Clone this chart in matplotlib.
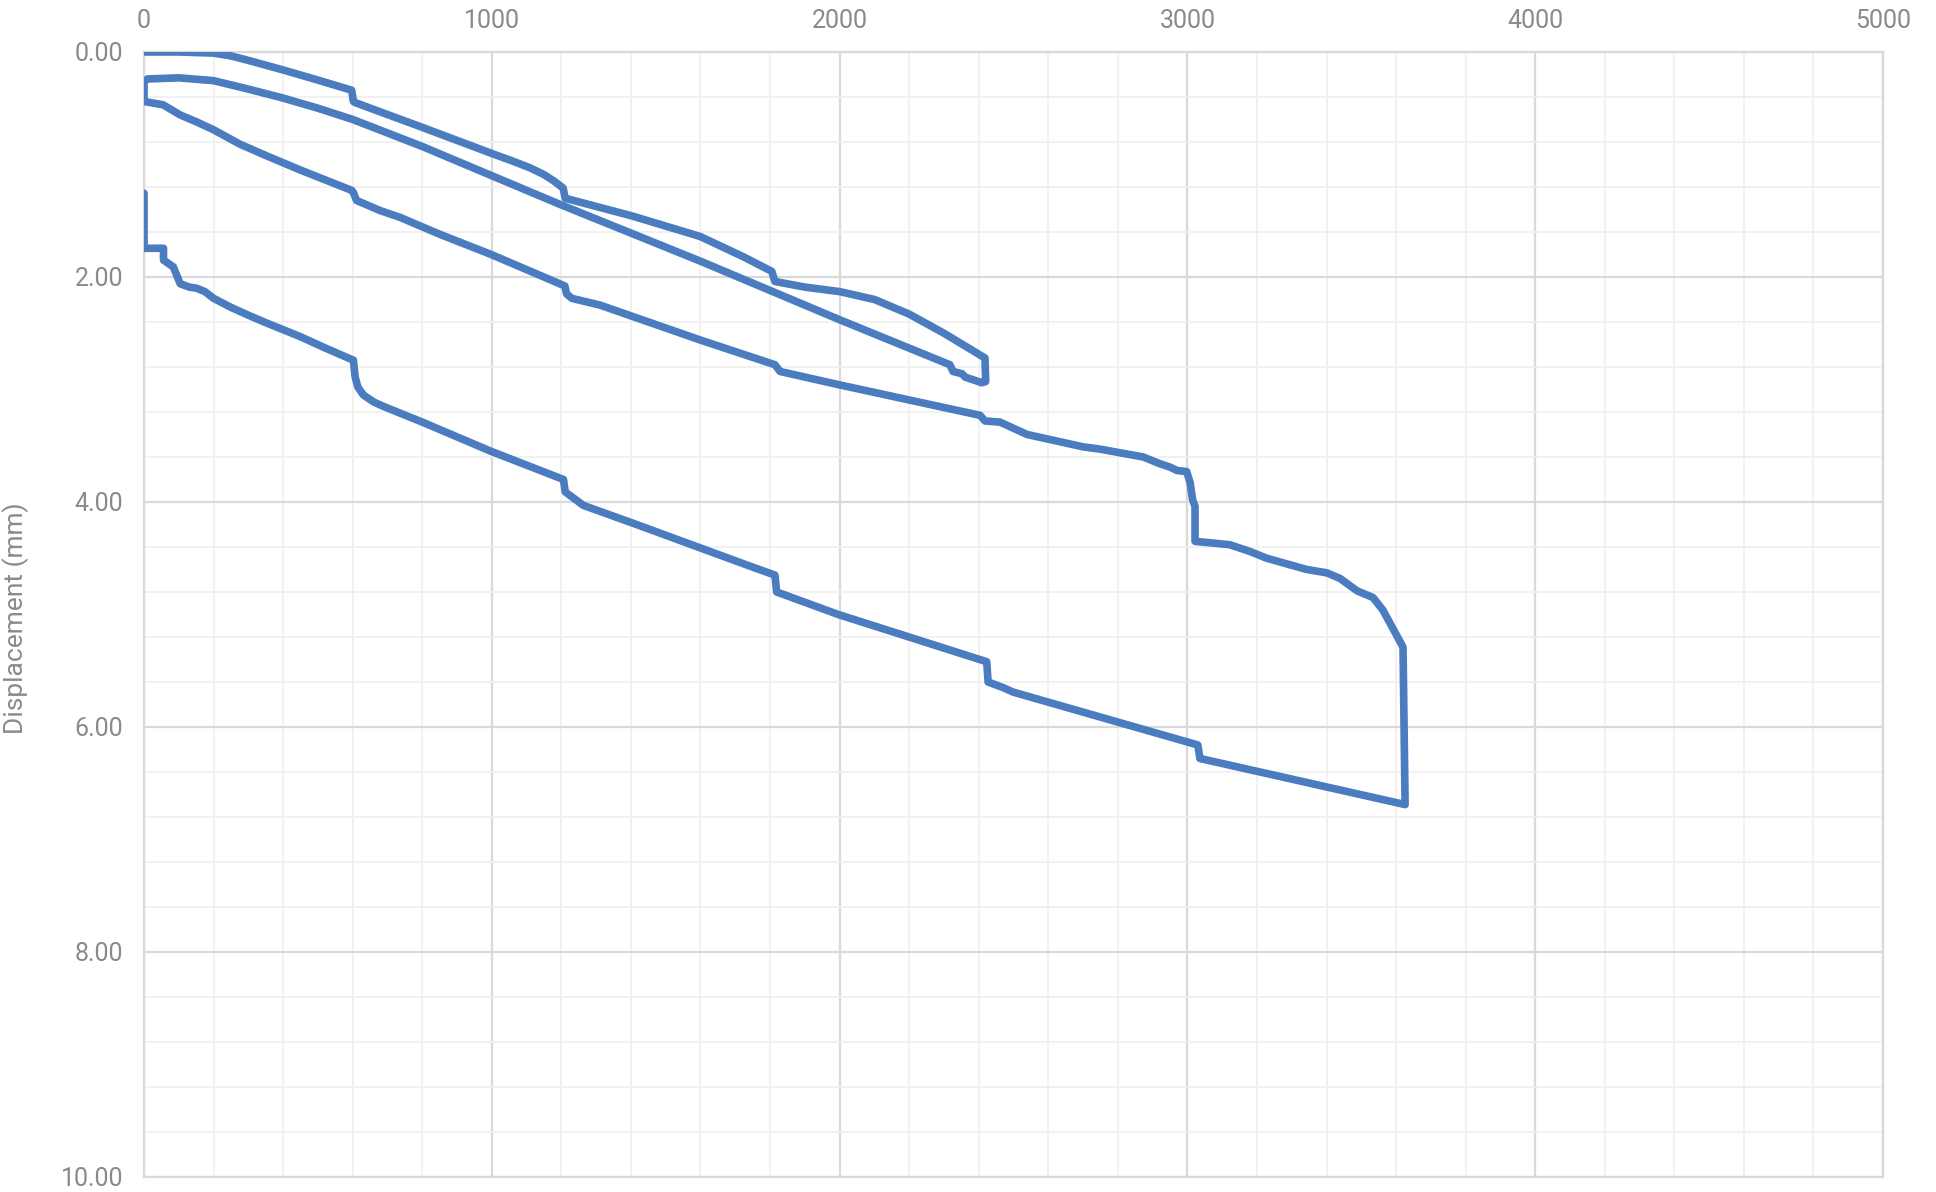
import numpy as np
import matplotlib.pyplot as plt
from matplotlib.ticker import MultipleLocator, FormatStrFormatter

# load (x) vs displacement in mm (y), in drawing order
load_up1 = [0, 100, 200, 250, 300, 400, 500, 597, 602, 607, 800, 998, 1060, 1110, 1150, 1180, 1205, 1211,
            1406, 1599, 1723, 1805, 1814, 1900, 2000, 2100, 2200, 2300, 2418, 2420]
disp_up1 = [0.0, 0.0, 0.01, 0.035, 0.075, 0.16, 0.25, 0.34, 0.44, 0.45, 0.67, 0.90, 0.97, 1.03, 1.09, 1.15, 1.21, 1.30,
            1.46, 1.64, 1.82, 1.95, 2.04, 2.09, 2.13, 2.20, 2.33, 2.50, 2.72, 2.93]

load_down1 = [2409, 2361, 2352, 2326, 2317, 2000, 1800, 1600, 1400, 1200, 1000, 800, 600,
              500, 400, 300, 200, 100, 10, 0, 0]
disp_down1 = [2.94, 2.89, 2.86, 2.84, 2.78, 2.38, 2.12, 1.86, 1.61, 1.36, 1.10, 0.84, 0.60,
              0.50, 0.41, 0.33, 0.255, 0.23, 0.24, 0.26, 0.44]

load_up2 = [55, 104, 150, 199, 276, 350, 450, 597, 602, 611, 679, 736, 850, 998, 1210, 1215, 1230,
            1311, 1599, 1814, 1829, 2001, 2404, 2418, 2461, 2539, 2700, 2748, 2873, 2921,
            2950, 2970, 2998, 3008, 3015, 3022, 3022, 3122, 3180, 3228, 3343, 3401, 3439,
            3488, 3534, 3562, 3620, 3626]
disp_up2 = [0.47, 0.56, 0.62, 0.69, 0.82, 0.92, 1.05, 1.23, 1.25, 1.32, 1.41, 1.47, 1.62, 1.80, 2.08, 2.15, 2.19,
            2.25, 2.56, 2.78, 2.84, 2.96, 3.23, 3.28, 3.29, 3.40, 3.51, 3.53, 3.60, 3.66,
            3.69, 3.72, 3.73, 3.83, 3.98, 4.04, 4.35, 4.38, 4.44, 4.50, 4.60, 4.63, 4.68,
            4.79, 4.85, 4.96, 5.29, 6.69]

load_down2 = [3036, 3030, 2499, 2470, 2427, 2423, 1996, 1819, 1814, 1742, 1407, 1263, 1211,
              1206, 998, 800, 688, 660, 631, 615, 607, 602, 520, 449, 353, 300, 250, 200, 175,
              151, 130, 104, 84, 56, 56, 0, 0]
disp_down2 = [6.28, 6.16, 5.69, 5.65, 5.60, 5.42, 5.00, 4.80, 4.65, 4.57, 4.19, 4.03, 3.91,
              3.80, 3.55, 3.29, 3.15, 3.11, 3.05, 2.98, 2.89, 2.74, 2.63, 2.53, 2.41, 2.34, 2.27, 2.19, 2.13,
              2.10, 2.09, 2.06, 1.91, 1.85, 1.745, 1.745, 1.256]

load = np.array(load_up1 + load_down1 + load_up2 + load_down2)
disp = np.array(disp_up1 + disp_down1 + disp_up2 + disp_down2)

plt.rcParams['font.family'] = ['Roboto', 'DejaVu Sans']

fig = plt.figure(figsize=(19.36, 11.92), dpi=100)
ax = fig.add_axes([0.0744, 0.0126, 0.8982, 0.9438])

ax.plot(load, disp, color='#4a7cbf', lw=5.5, solid_joinstyle='round', solid_capstyle='round', zorder=3)

ax.set_xlim(0, 5000)
ax.set_ylim(10, 0)
ax.xaxis.set_major_locator(MultipleLocator(1000))
ax.xaxis.set_minor_locator(MultipleLocator(200))
ax.yaxis.set_major_locator(MultipleLocator(2))
ax.yaxis.set_minor_locator(MultipleLocator(0.4))
ax.yaxis.set_major_formatter(FormatStrFormatter('%.2f'))
ax.xaxis.tick_top()

ax.grid(which='major', color='#d9d9d9', lw=1.6)
ax.grid(which='minor', color='#f0f0f0', lw=1.3)
ax.set_axisbelow(True)
for s in ax.spines.values():
    s.set_color('#d9d9d9')
    s.set_linewidth(1.6)

ax.tick_params(which='both', length=0)
ax.tick_params(axis='x', pad=14, labelsize=18, labelcolor='#8a8a8a')
ax.tick_params(axis='y', pad=15, labelsize=18, labelcolor='#8a8a8a')

ax.set_ylabel('Displacement (mm)', fontsize=19, color='#8a8a8a')
ax.yaxis.set_label_coords(-0.066, 0.497)

fig.savefig('out.png', dpi=100)
